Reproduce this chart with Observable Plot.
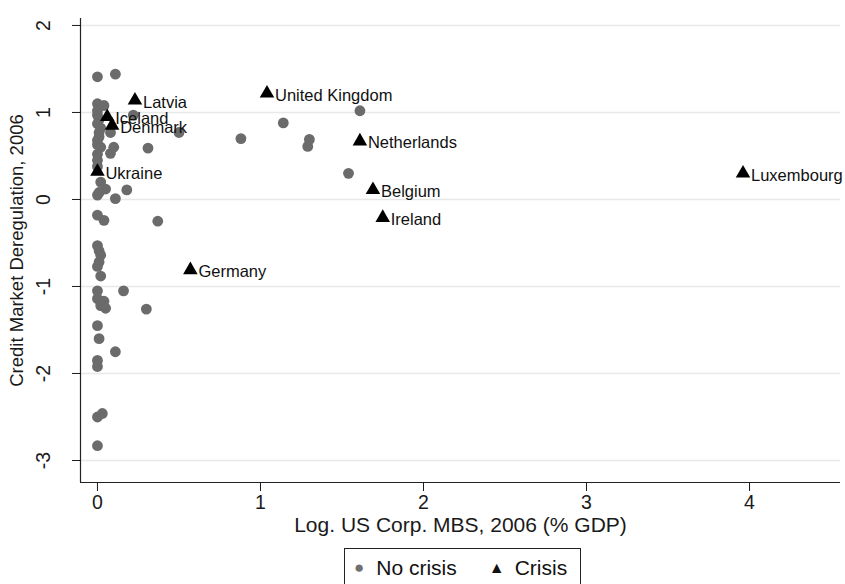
<!DOCTYPE html>
<html>
<head>
<meta charset="utf-8">
<script src="https://cdn.jsdelivr.net/npm/d3@7"></script>
<script src="https://cdn.jsdelivr.net/npm/@observablehq/plot@0.6"></script>
<style>
  html, body { margin: 0; padding: 0; background: #fff; font-family: "Liberation Sans", Arial, sans-serif; }
  #wrap { width: 845px; height: 584px; overflow: hidden; }
  #wrap svg { display: block; }
  #legend { margin-left: 344px; margin-top: 3px; width: 237px; height: 50px;
    border: 1.5px solid #222; box-sizing: border-box; display: flex; align-items: center;
    padding-bottom: 10px; font-size: 21px; color: #111; }
  #legend span { white-space: nowrap; }
</style>
</head>
<body>
<div id="wrap"></div>
<script>
// Countries without crisis: log US corp. MBS (x) and credit market deregulation (y)
const noCrisisX = [0.00, 0.11, 0.00, 0.04, 0.00, 0.00, 0.22, 0.01, 0.00, 0.02, 0.01, 0.08, 0.50, 0.01, 0.00, 0.02, 0.10, 0.08, 0.31, 0.00, 0.00, 0.00, 0.00, 0.02, 0.05, 0.01, 0.11, 0.18, 0.00,
  0.00, 0.04, 0.37, 0.00, 0.01, 0.02, 0.01, 0.00, 0.02, 0.00, 0.16, 0.00, 0.04, 0.02, 0.05, 0.30, 0.00, 0.01, 0.11, 0.00, 0.00, 0.00, 0.03, 0.00,
  0.88, 1.14, 1.30, 1.29, 1.54, 1.61];
const noCrisisY = [1.41, 1.44, 1.10, 1.08, 1.02, 0.97, 0.97, 0.92, 0.87, 0.82, 0.77, 0.77, 0.77, 0.72, 0.68, 0.60, 0.60, 0.53, 0.59, 0.63, 0.52, 0.45, 0.38, 0.20, 0.12, 0.08, 0.01, 0.11, 0.05,
  -0.18, -0.24, -0.25, -0.53, -0.59, -0.64, -0.72, -0.77, -0.88, -1.05, -1.05, -1.14, -1.17, -1.22, -1.25, -1.26, -1.45, -1.60, -1.75, -1.85, -1.92, -2.50, -2.46, -2.83,
  0.70, 0.88, 0.69, 0.61, 0.30, 1.02];

// Countries with crisis
const crisisNames = ["Latvia", "Iceland", "Denmark", "Ukraine", "Germany", "United Kingdom", "Netherlands", "Belgium", "Ireland", "Luxembourg"];
const crisisX = [0.23, 0.06, 0.09, 0.00, 0.57, 1.04, 1.61, 1.69, 1.75, 3.96];
const crisisY = [1.14, 0.95, 0.85, 0.32, -0.81, 1.22, 0.67, 0.11, -0.21, 0.30];

const xTicks = [0, 1, 2, 3, 4];
const yTicks = [-3, -2, -1, 0, 1, 2];
const xDomain = [-0.104, 4.558];
const yDomain = [-3.253, 2.08];

const noCrisis = noCrisisX.map((x, i) => ({x, y: noCrisisY[i]}));
const crisis = crisisNames.map((name, i) => ({name, x: crisisX[i], y: crisisY[i]}));

const chart = Plot.plot({
  width: 845,
  height: 545,
  marginLeft: 80,
  marginRight: 5,
  marginTop: 18,
  marginBottom: 63,
  style: {fontFamily: "'Liberation Sans', Arial, sans-serif", color: "#1a1a1a", background: "#fff"},
  x: {domain: xDomain},
  y: {domain: yDomain},
  marks: [
    Plot.ruleY(yTicks, {stroke: "#e8e8e8", strokeWidth: 1.5}),
    Plot.ruleX([xDomain[0]], {stroke: "#222", strokeWidth: 1.2}),
    Plot.ruleY([yDomain[0]], {stroke: "#222", strokeWidth: 1.2}),
    Plot.axisY({ticks: yTicks, tickFormat: d => String(d), tickSize: 8, tickRotate: -90, tickPadding: 23, fontSize: 19.5, label: null}),
    Plot.axisY({ticks: [], tickSize: 0, fontSize: 18.5,
      label: "Credit Market Deregulation, 2006", labelAnchor: "center", labelArrow: "none", labelOffset: 71}),
    Plot.axisX({ticks: xTicks, tickFormat: d => String(d), tickSize: 9, tickPadding: 4, fontSize: 19.5, label: null}),
    Plot.axisX({ticks: [], tickSize: 0, fontSize: 21,
      label: "Log. US Corp. MBS, 2006 (% GDP)", labelAnchor: "center", labelArrow: "none", labelOffset: 49}),
    Plot.dot(noCrisis, {x: "x", y: "y", r: 5.4, fill: "#6b6b6b", stroke: "none"}),
    Plot.dot(crisis, {x: "x", y: "y", r: 5.4, symbol: "triangle", fill: "#000", stroke: "none"}),
    Plot.text(crisis, {x: "x", y: "y", text: "name", dx: 8, dy: 2, textAnchor: "start", fontSize: 16.5, fill: "#111"})
  ]
});

const wrap = document.getElementById("wrap");
wrap.appendChild(chart);
const legend = document.createElement("div");
legend.id = "legend";
legend.innerHTML = '<span style="margin-left:9px;color:#707070;font-size:17px;">\u25CF</span>' +
  '<span style="margin-left:12px;">No crisis</span>' +
  '<span style="margin-left:32px;font-size:16px;">\u25B2</span>' +
  '<span style="margin-left:10px;">Crisis</span>';
wrap.appendChild(legend);
</script>
</body>
</html>
